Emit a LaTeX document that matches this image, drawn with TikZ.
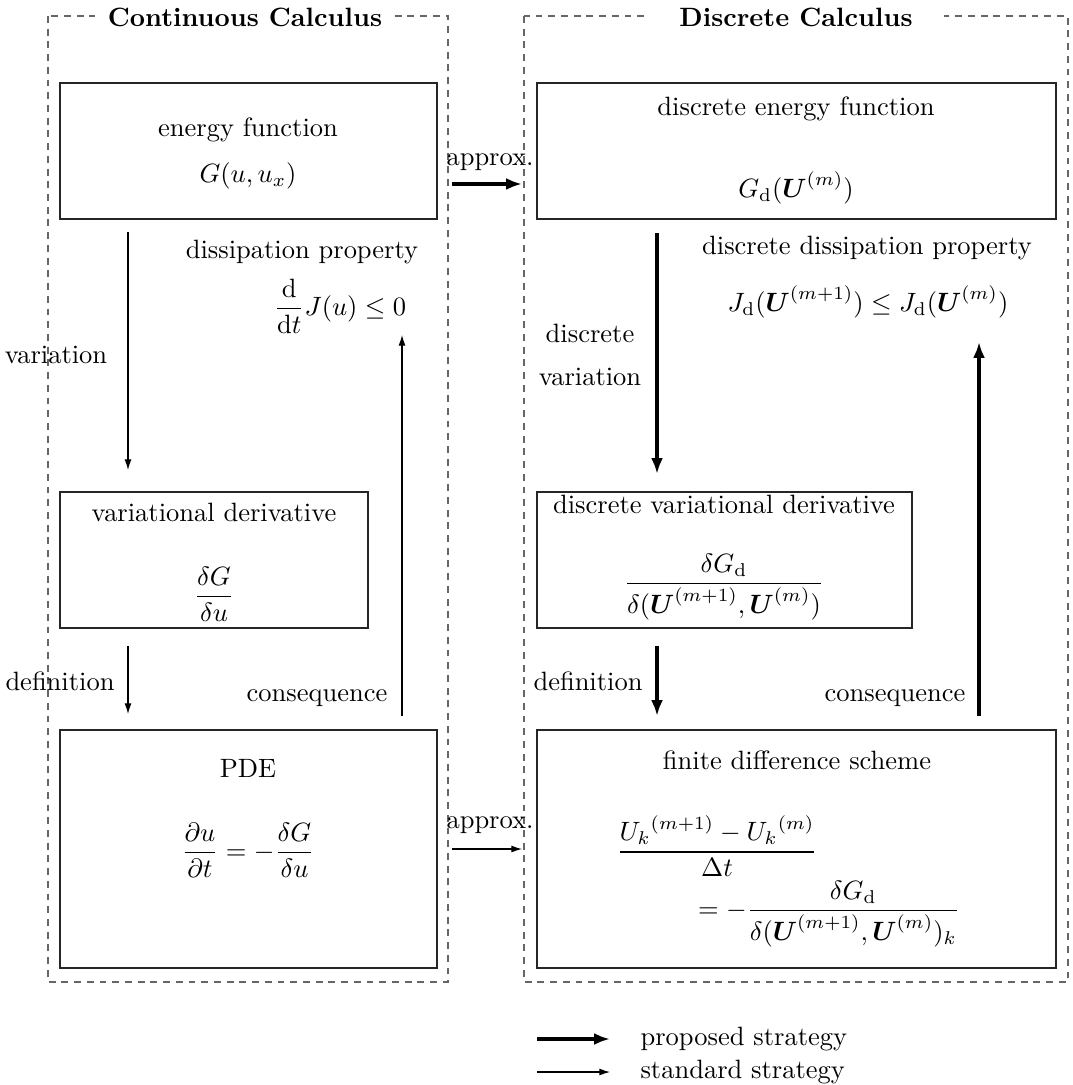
\documentclass[tikz,border=0pt]{standalone}
\usepackage{amsmath,amssymb}
\usetikzlibrary{arrows.meta,fit}
\begin{document}
\begin{tikzpicture}[x=0.3774pt,y=-0.3774pt,
  box/.style={draw=black!85, line width=0.45pt, inner sep=0pt},
  frame/.style={draw=black!60, line width=0.45pt, dash pattern=on 2.6pt off 2.2pt},
  ftitle/.style={fill=white, font=\bfseries, inner ysep=2pt},
  txt/.style={inner sep=0pt},
  thickarr/.style={line width=1.5pt,-{Latex[length=6pt,width=4.5pt]}},
  thinarr/.style={line width=0.4pt,-{Latex[length=4pt,width=2.6pt]}},
]
\useasboundingbox (0,0) rectangle (1072,1085);

% frames
\draw[frame] (48,16) rectangle (448,982);
\draw[frame] (524,16) rectangle (1068,982);
\node[ftitle, inner xsep=5pt] (tcont) at (245,17) {Continuous Calculus};
\node[ftitle, inner xsep=12pt] (tdisc) at (796,17) {Discrete Calculus};

% boxes
\node[box, fit={(60,83) (437,219)}] (ef) {};
\node[box, fit={(537,83) (1056,219)}] (def) {};
\node[box, fit={(60,492) (368,628)}] (vd) {};
\node[box, fit={(537,492) (912,628)}] (dvd) {};
\node[box, fit={(60,730) (437,968)}] (pde) {};
\node[box, fit={(537,730) (1056,968)}] (fds) {};

% box contents
\node[txt] (eft) at (248,130) {energy function};
\node[txt] (efm) at (248,176) {$G(u,u_x)$};
\node[txt] (deft) at (796,109) {discrete energy function};
\node[txt] (defm) at (796,188) {$G_{\mathrm{d}}(\boldsymbol{U}^{(m)})$};
\node[txt] (vdt) at (214,512) {variational derivative};
\node[txt] (vdm) at (214,594) {$\displaystyle\frac{\delta G}{\delta u}$};
\node[txt] (dvdt) at (724,504) {discrete variational derivative};
\node[txt] (dvdm) at (724,587) {$\displaystyle\frac{\delta G_{\mathrm{d}}}{\delta(\boldsymbol{U}^{(m+1)},\boldsymbol{U}^{(m)})}$};
\node[txt] (pdet) at (248,768) {PDE};
\node[txt] (pdem) at (248,850) {$\displaystyle\frac{\partial u}{\partial t}=-\frac{\delta G}{\delta u}$};
\node[txt] (fdst) at (797,760) {finite difference scheme};
\node[txt] (fdsm1) at (717,846) {$\displaystyle\frac{{U_k}^{(m+1)}-{U_k}^{(m)}}{\Delta t}$};
\node[txt] (fdsm2) at (829,914) {$\displaystyle=-\frac{\delta G_{\mathrm{d}}}{\delta(\boldsymbol{U}^{(m+1)},\boldsymbol{U}^{(m)})_k}$};

% free labels
\node[txt] (dpt) at (302,252) {dissipation property};
\node[txt] (dpm) at (340,306) {$\displaystyle\frac{\mathrm{d}}{\mathrm{d}t}J(u)\leq 0$};
\node[txt] (ddpt) at (867,248) {discrete dissipation property};
\node[txt] (ddpm) at (868,302) {$J_{\mathrm{d}}(\boldsymbol{U}^{(m+1)})\leq J_{\mathrm{d}}(\boldsymbol{U}^{(m)})$};

% connector end points
\coordinate (a1s) at (452,184); \coordinate (a1e) at (522,184);
\coordinate (a2s) at (452,849); \coordinate (a2e) at (522,849);
\coordinate (v1s) at (128,232); \coordinate (v1e) at (128,470);
\coordinate (d1s) at (128,646); \coordinate (d1e) at (128,714);
\coordinate (c1s) at (402,716); \coordinate (c1e) at (402,335);
\coordinate (v2s) at (657,233); \coordinate (v2e) at (657,474);
\coordinate (d2s) at (657,646); \coordinate (d2e) at (657,716);
\coordinate (c2s) at (979,716); \coordinate (c2e) at (979,342);

\draw[thickarr] (a1s) -- (a1e);
\draw[thinarr] (a2s) -- (a2e);
\draw[thinarr] (v1s) -- (v1e);
\draw[thinarr] (d1s) -- (d1e);
\draw[thinarr] (c1s) -- (c1e);
\draw[thickarr] (v2s) -- (v2e);
\draw[thickarr] (d2s) -- (d2e);
\draw[thickarr] (c2s) -- (c2e);

% arrow labels
\node[txt] (la1) at (490,162) {approx.};
\node[txt] (la2) at (490,825) {approx.};
\node[txt] (lv1) at (56,355) {variation};
\node[txt] (ld1) at (60,681) {definition};
\node[txt] (lc1) at (317,698) {consequence};
\node[txt, align=center] (lv2) at (590,355) {discrete\\[4.2pt]variation};
\node[txt] (ld2) at (588,681) {definition};
\node[txt] (lc2) at (895,698) {consequence};

% legend
\coordinate (lg1s) at (537,1039); \coordinate (lg1e) at (610,1039);
\coordinate (lg2s) at (537,1072); \coordinate (lg2e) at (610,1072);
\draw[thickarr] (lg1s) -- (lg1e);
\draw[thinarr] (lg2s) -- (lg2e);
\node[txt, anchor=west] (lgt1) at (640,1039) {proposed strategy};
\node[txt, anchor=west] (lgt2) at (640,1072) {standard strategy};
\end{tikzpicture}
\end{document}
